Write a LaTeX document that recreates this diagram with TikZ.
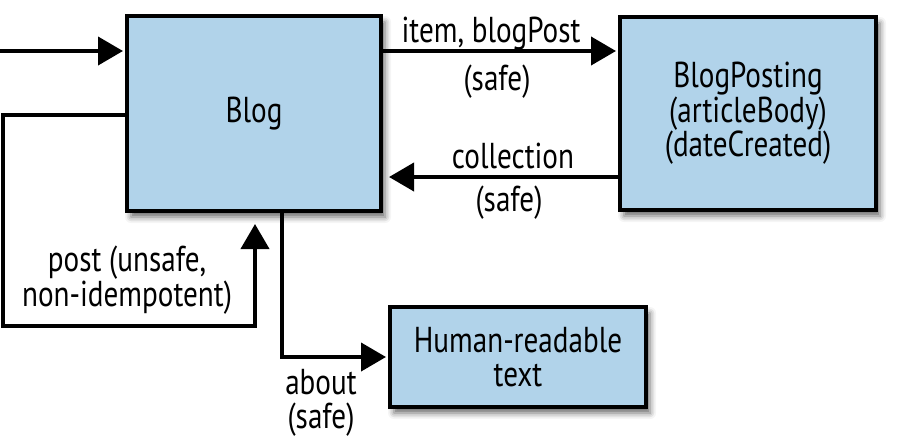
\documentclass[tikz,border=0pt]{standalone}
\usepackage{fontspec}
\setmainfont{PT Sans}[FakeStretch=0.81]
\usetikzlibrary{arrows.meta,shadows.blur}
\definecolor{boxblue}{RGB}{177,211,234}
\begin{document}
\begin{tikzpicture}[x=1pt,y=-1pt,
  box/.style={draw=black,line width=4pt,fill=boxblue,inner sep=0pt,align=center,
     blur shadow={shadow xshift=4pt,shadow yshift=-6pt,shadow blur radius=6pt,shadow opacity=60}},
  conn/.style={line width=4pt,-{Triangle[length=25pt,width=28pt]}},
  lbl/.style={inner sep=0pt,align=center},
  font=\fontsize{36}{33.5}\selectfont]
\useasboundingbox (0,0) rectangle (910,445);
\node[box,minimum width=254pt,minimum height=195pt] (blog) at (254,113.5) {Blog};
\node[box,minimum width=256pt,minimum height=193pt,font=\fontsize{36}{34.5}\selectfont] (posting) at (748,113.5) {BlogPosting\\(articleBody)\\(dateCreated)};
\node[box,minimum width=256pt,minimum height=100pt] (human) at (518,357) {Human-readable\\text};
% connectors
\coordinate (start) at (0,51);
\coordinate (colly) at (0,177);
\coordinate (loopy) at (0,115);
\coordinate (loopl) at (3,326);
\coordinate (loopr) at (255,326);
\coordinate (aboutx) at (282,0);
\draw[conn,shorten >=2pt] (start) -- (start -| blog.west);
\draw[conn,shorten >=2pt] (blog.east |- start) -- (posting.west |- start);
\draw[conn,shorten >=6pt] (posting.west |- colly) -- (blog.east |- colly);
\draw[conn,shorten >=11pt] (blog.west |- loopy) -| (loopl) -- (loopr) -- (loopr |- blog.south);
\draw[conn,shorten >=2pt] (blog.south -| aboutx) |- (human.west);
% labels
\node[lbl,anchor=base] (litem) at (491,42) {item, blogPost};
\node[lbl,anchor=base] (lsafe1) at (497,90) {(safe)};
\node[lbl,anchor=base] (lcoll) at (513,168) {collection};
\node[lbl,anchor=base] (lsafe2) at (509,211) {(safe)};
\node[lbl] (lpost) at (127,280) {post (unsafe,\\non-idempotent)};
\node[lbl] (labout) at (321,403) {about\\(safe)};
\end{tikzpicture}
\end{document}
